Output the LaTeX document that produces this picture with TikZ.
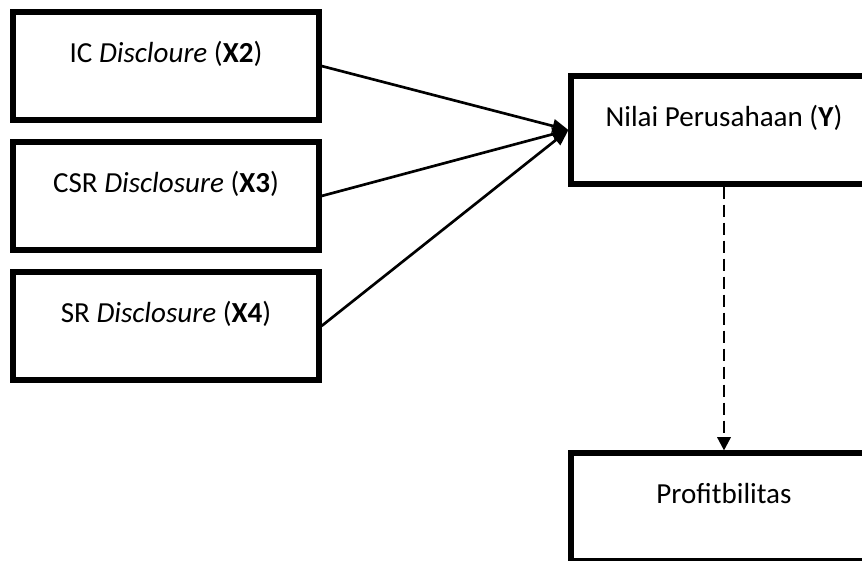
\documentclass[tikz,border=0pt]{standalone}
\usepackage{fontspec}
\setmainfont{Carlito}
\usetikzlibrary{arrows.meta}
\tikzset{
  varbox/.style={draw, line width=3.8pt, inner sep=0pt, minimum width=229.5pt,
    text height=37.5pt, text depth=43.5pt, font=\fontsize{21.8}{26}\selectfont},
  link/.style={line width=2pt, -{Triangle[length=12pt,width=10pt]}},
  dashlink/.style={line width=1.8pt, dash pattern=on 9pt off 4.5pt,
    -{Triangle[length=10pt,width=10pt]}}
}
\begin{document}
\begin{tikzpicture}[x=0.75pt,y=-0.75pt]
\clip (0,0) rectangle (862,560);
\useasboundingbox (0,0) rectangle (862,560);
%independent variables
\node[varbox] (xic) at (166,66) {IC \textit{Discloure} (\textbf{X2})};
\node[varbox] (xcsr) at (166,196) {CSR \textit{Disclosure} (\textbf{X3})};
\node[varbox] (xsr) at (166,326) {SR \textit{Disclosure} (\textbf{X4})};
%dependent variable
\node[varbox] (ny) at (724,130) {Nilai Perusahaan (\textbf{Y})};
\node[varbox] (prof) at (724,507) {Profitbilitas};
%links
\draw[link] (xic.east) -- (ny.west);
\draw[link] (xcsr.east) -- (ny.west);
\draw[link] (xsr.east) -- (ny.west);
\draw[dashlink] (ny.south) -- (prof.north);
\end{tikzpicture}
\end{document}
